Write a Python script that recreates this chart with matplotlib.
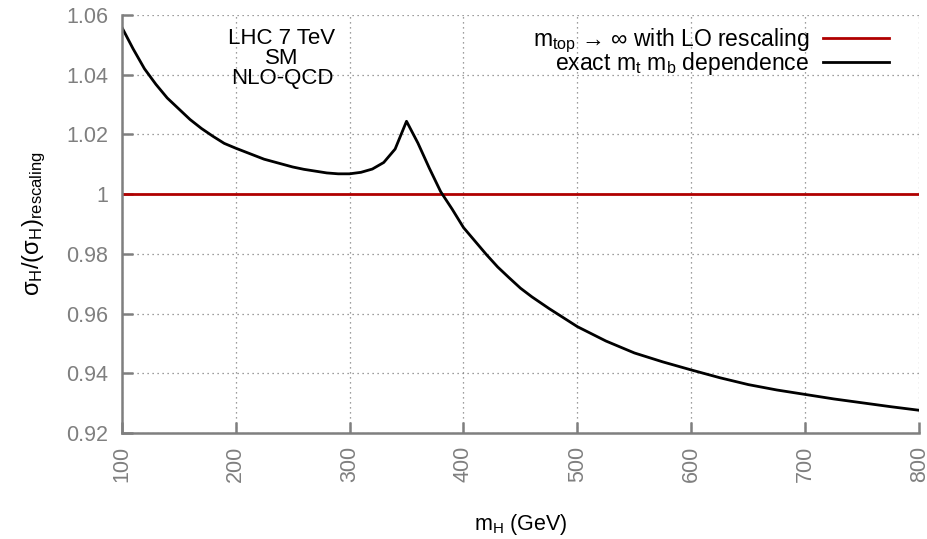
import matplotlib

matplotlib.use("Agg")
import matplotlib.pyplot as plt

plt.rcParams["font.family"] = ["Liberation Sans", "DejaVu Sans"]
plt.rcParams["mathtext.fontset"] = "custom"
plt.rcParams["mathtext.rm"] = "Liberation Sans"
plt.rcParams["mathtext.it"] = "Liberation Sans"

# Higgs mass (GeV) and ratio sigma_H / (sigma_H)_rescaling
m_higgs = [100, 110, 120, 130, 140, 150, 160, 170, 180, 190, 200, 225, 250,
           260, 270, 280, 290, 300, 310, 320, 330, 340, 350, 360, 370, 380,
           390, 400, 410, 420, 430, 440, 450, 460, 475, 500, 525, 550, 575,
           600, 625, 650, 675, 700, 725, 750, 775, 800]
ratio_exact = [1.0560, 1.0487, 1.0420, 1.0368, 1.0322, 1.0286, 1.0250, 1.0220,
               1.0194, 1.0170, 1.0154, 1.0117, 1.0091, 1.0083, 1.0077, 1.0071,
               1.0068, 1.0068, 1.0073, 1.0084, 1.0106, 1.0151, 1.0244, 1.0171,
               1.0087, 1.0008, 0.9950, 0.9888, 0.9843, 0.9798, 0.9756, 0.9720,
               0.9685, 0.9656, 0.9617, 0.9556, 0.9508, 0.9468, 0.9438, 0.9411,
               0.9385, 0.9362, 0.9344, 0.9329, 0.9314, 0.9301, 0.9288, 0.9276]
ratio_rescaled = [1.0] * len(m_higgs)

x_ticks = [100, 200, 300, 400, 500, 600, 700, 800]
y_ticks = [0.92, 0.94, 0.96, 0.98, 1.0, 1.02, 1.04, 1.06]
y_ticklabels = ["0.92", "0.94", "0.96", "0.98", "1", "1.02", "1.04", "1.06"]

GRAY = "#7f7f7f"
FS = 15.5

fig = plt.figure(figsize=(9.28, 5.39), dpi=100)
ax = fig.add_axes([0.1311, 0.1967, 0.8595, 0.7755])

ax.plot(m_higgs, ratio_rescaled, color="#b00000", lw=2.0,
        label=r"m$_{\mathregular{top}}$ → ∞ with LO rescaling")
ax.plot(m_higgs, ratio_exact, color="black", lw=2.0,
        label=r"exact m$_{\mathregular{t}}$ m$_{\mathregular{b}}$ dependence")

ax.set_xlim(100, 800)
ax.set_ylim(0.92, 1.06)
ax.set_xticks(x_ticks)
ax.set_xticklabels([str(t) for t in x_ticks], rotation=90)
ax.set_yticks(y_ticks)
ax.set_yticklabels(y_ticklabels)
ax.tick_params(direction="in", length=8, width=1.8, color=GRAY,
               labelcolor=GRAY, labelsize=FS)
ax.tick_params(axis="y", pad=9.5)
ax.tick_params(axis="x", pad=9)
ax.grid(True, ls=(0, (1, 3)), color=GRAY, lw=0.9)
for side in ["top", "right"]:
    ax.spines[side].set_visible(False)
for side in ["left", "bottom"]:
    ax.spines[side].set_color(GRAY)
    ax.spines[side].set_linewidth(1.8)

ax.text(240.7, 1.0558, "LHC 7 TeV\nSM\nNLO-QCD", ha="center", va="top",
        fontsize=16, linespacing=0.96)

ax.set_xlabel(r"m$_{\mathregular{H}}$ (GeV)", fontsize=FS, labelpad=22)
ax.set_ylabel(r"σ$_{\mathregular{H}}$/(σ$_{\mathregular{H}}$)$_{\mathregular{rescaling}}$",
              fontsize=17, labelpad=13)

ax.legend(loc="upper right", bbox_to_anchor=(0.977, 1.0), frameon=False,
          markerfirst=False, fontsize=16.5, handlelength=2.9, handletextpad=0.6,
          borderpad=0, labelspacing=-0.22, alignment="right")

fig.savefig("out.png", dpi=100)
